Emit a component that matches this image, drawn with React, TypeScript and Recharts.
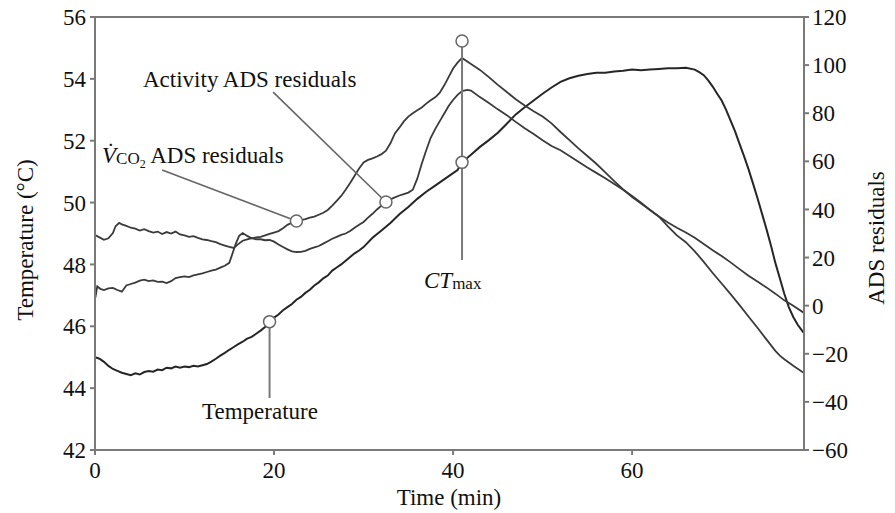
import React from "react";
import {
  LineChart,
  Line,
  XAxis,
  YAxis,
  ReferenceLine,
  ReferenceDot,
} from "recharts";

// time (min) / temperature (°C), left axis
const tempTime = [
  0, 0.5, 1, 1.5, 2, 2.5, 3, 3.5, 4, 4.5, 5, 5.5, 6, 6.5, 7, 7.5, 8, 8.5, 9, 9.5,
  10, 10.5, 11, 11.5, 12, 12.5, 13, 13.5, 14, 14.5, 15, 15.5, 16, 16.5, 17, 17.5,
  18, 18.5, 19, 19.5, 20, 20.5, 21, 21.5, 22, 22.5, 23, 23.5, 24, 24.5, 25, 25.5,
  26, 26.5, 27, 27.5, 28, 28.5, 29, 29.5, 30, 31, 32, 33, 34, 35, 36, 37, 38, 39,
  40, 40.5, 41, 42, 43, 44, 45, 46, 47, 48, 49, 50, 51, 52, 53, 54, 55, 56, 57, 58,
  59, 60, 61, 62, 63, 64, 65, 66, 67, 67.5, 68, 68.5, 69, 69.5, 70, 70.5, 71, 71.5,
  72, 72.5, 73, 73.5, 74, 74.5, 75, 75.5, 76, 76.5, 77, 77.5, 78, 78.5, 79, 79.2,
];
const tempValue = [
  45.0, 44.95, 44.85, 44.72, 44.62, 44.56, 44.5, 44.46, 44.42, 44.48, 44.44, 44.52,
  44.55, 44.53, 44.6, 44.58, 44.66, 44.64, 44.7, 44.66, 44.7, 44.68, 44.72, 44.7,
  44.74, 44.78, 44.86, 44.95, 45.05, 45.14, 45.24, 45.33, 45.42, 45.5, 45.6, 45.66,
  45.76, 45.86, 45.98, 46.14, 46.28, 46.38, 46.52, 46.62, 46.72, 46.86, 46.95,
  47.08, 47.18, 47.32, 47.42, 47.55, 47.64, 47.8, 47.9, 48.0, 48.12, 48.24, 48.36,
  48.45, 48.56, 48.86, 49.1, 49.34, 49.62, 49.86, 50.12, 50.35, 50.55, 50.75,
  50.95, 51.05, 51.3, 51.55, 51.8, 52.02, 52.26, 52.55, 52.85, 53.08, 53.3, 53.52,
  53.72, 53.9, 54.02, 54.1, 54.16, 54.2, 54.2, 54.24, 54.26, 54.3, 54.28, 54.3,
  54.32, 54.34, 54.34, 54.36, 54.3, 54.22, 54.12, 53.95, 53.75, 53.52, 53.3, 53.0,
  52.65, 52.3, 51.9, 51.5, 51.08, 50.62, 50.15, 49.65, 49.15, 48.62, 48.05, 47.55,
  47.05, 46.62, 46.3, 46.05, 45.85, 45.78,
];

// VCO2 ADS residuals, right axis
const co2Time = [
  0.05, 0.25, 0.6, 1, 1.5, 2, 2.5, 3, 3.5, 4, 4.5, 5, 5.5, 6, 6.5, 7, 7.5, 8, 8.5, 9,
  9.5, 10, 10.5, 11, 11.5, 12, 12.5, 13, 13.5, 14, 14.5, 15, 15.3, 15.7, 16.1, 16.5,
  17, 17.5, 18, 18.5, 19, 19.5, 20, 20.5, 21, 21.5, 22, 22.5, 23, 23.5, 24, 24.5,
  25, 25.5, 26, 26.5, 27, 27.5, 28, 28.5, 29, 29.5, 30, 30.5, 31, 31.5, 32, 32.5,
  33, 33.5, 34, 34.5, 35, 35.5, 36, 36.5, 37, 37.5, 38, 38.5, 39, 39.5, 40, 40.5,
  41, 42, 43, 44, 45, 46, 47, 48, 49, 50, 51, 52, 53, 54, 55, 56, 57, 58, 59, 60,
  61, 62, 63, 64, 65, 66, 67, 68, 69, 70, 71, 72, 73, 74, 75, 76, 76.5, 77, 78, 79.2,
];
const co2Value = [
  3.5, 8.0, 7.0, 6.5, 7.2, 7.4, 6.5, 5.8, 8.4, 9.0, 9.6, 10.4, 10.8, 10.2, 10.5, 9.9,
  10.0, 9.4, 10.2, 11.5, 11.9, 12.2, 11.9, 12.6, 13.0, 13.4, 14.0, 14.6, 15.0, 15.8,
  16.6, 17.8, 21.0, 25.5, 29.0, 30.2, 29.0, 28.0, 28.4, 28.6, 29.2, 29.8, 30.4,
  31.0, 32.2, 33.6, 34.5, 35.2, 35.6, 36.0, 36.6, 37.0, 37.8, 38.6, 39.8, 41.6,
  43.6, 45.6, 48.2, 51.0, 54.0, 57.0, 59.5, 60.6, 61.2, 62.0, 63.0, 64.4, 67.5,
  71.6, 74.0, 76.6, 78.6, 80.0, 81.2, 82.4, 84.0, 85.4, 86.6, 88.4, 91.5, 95.0,
  98.6, 101.0, 103.0, 100.5, 98.0, 95.0, 91.8, 88.8, 85.8, 83.2, 80.8, 78.6, 75.8,
  72.2, 68.8, 65.4, 62.2, 59.0, 55.4, 51.8, 48.3, 45.2, 42.5, 39.8, 37.0, 33.0,
  29.2, 26.4, 22.6, 18.2, 13.6, 9.2, 4.8, 0.2, -4.5, -9.2, -14.0, -18.8, -20.8,
  -22.3, -25.0, -28.0,
];

// Activity ADS residuals, right axis
const actTime = [
  0, 0.5, 1, 1.5, 2, 2.3, 2.7, 3, 3.5, 4, 4.5, 5, 5.5, 6, 6.5, 7, 7.5, 8, 8.5, 9,
  9.5, 10, 10.5, 11, 11.5, 12, 12.5, 13, 13.5, 14, 14.5, 15, 15.5, 16, 16.5, 17,
  17.5, 18, 18.5, 19, 19.5, 20, 20.5, 21, 21.5, 22, 22.5, 23, 23.5, 24, 24.5, 25,
  25.5, 26, 26.5, 27, 27.5, 28, 28.5, 29, 29.5, 30, 30.5, 31, 31.5, 32, 32.5, 33,
  33.5, 34, 34.5, 35, 35.5, 36, 36.5, 37, 37.5, 38, 38.5, 39, 39.5, 40, 40.5, 41,
  41.6, 42, 43, 44, 45, 46, 47, 48, 49, 50, 51, 52, 53, 54, 55, 56, 57, 58, 59, 60,
  61, 62, 63, 64, 65, 66, 67, 68, 69, 70, 71, 72, 73, 74, 75, 76, 77, 78, 79.2,
];
const actValue = [
  29.4, 28.4, 27.4, 28.0, 30.2, 33.0, 34.4, 33.8, 33.2, 32.4, 32.0, 31.2, 31.8,
  31.0, 30.4, 30.8, 29.8, 30.6, 30.0, 30.8, 29.6, 29.2, 28.6, 28.9, 28.2, 27.6,
  27.3, 26.8, 26.4, 25.6, 25.0, 24.4, 24.0, 25.6, 27.0, 27.6, 28.1, 27.6, 27.6,
  27.2, 27.3, 26.6, 25.4, 24.4, 23.4, 22.6, 22.3, 22.4, 22.8, 23.6, 24.2, 24.8,
  25.8, 26.8, 27.8, 28.6, 29.4, 30.0, 31.0, 32.4, 33.6, 34.8, 36.6, 38.2, 40.0,
  41.6, 43.1, 44.2, 45.0, 45.8, 46.4, 47.0, 48.2, 52.8, 59.0, 64.6, 69.8, 73.4,
  76.6, 79.8, 83.0, 85.5, 87.6, 89.2, 89.7, 89.4, 86.7, 84.2, 81.6, 79.2, 76.4,
  73.8, 71.4, 68.8, 66.4, 64.6, 62.2, 59.8, 57.4, 55.2, 53.0, 50.6, 48.2, 45.6,
  42.8, 39.8, 37.1, 34.6, 32.4, 30.4, 28.2, 25.6, 23.0, 20.6, 18.0, 15.2, 12.4,
  10.0, 7.6, 5.0, 2.2, 0.0, -3.0,
];

const xTicks = [0, 20, 40, 60];
const leftTicks = [42, 44, 46, 48, 50, 52, 54, 56];
const rightTicks = [-60, -40, -20, 0, 20, 40, 60, 80, 100, 120];

const ctMax = 41;

const toPoints = (ts: number[], vs: number[]) => ts.map((t, i) => ({ t, v: vs[i] }));
const tempData = toPoints(tempTime, tempValue);
const co2Data = toPoints(co2Time, co2Value);
const actData = toPoints(actTime, actValue);

const FONT = "'Liberation Serif', 'Times New Roman', serif";
const AXIS = "#7a7a7a";
const INK = "#111";
const FS = 23;
const tickStyle = { fontSize: FS, fill: INK, fontFamily: FONT };
const fmt = (v: number) => (v < 0 ? `\u2212${-v}` : `${v}`);

export default function App() {
  return (
    <div style={{ position: "absolute", left: 0, top: 0, width: 895, height: 513, background: "#fff" }}>
      <LineChart width={895} height={513} margin={{ top: 17, right: 0, bottom: 33, left: 0 }}>
        <XAxis
          type="number"
          dataKey="t"
          domain={[0, 79.2]}
          ticks={xTicks}
          allowDataOverflow
          height={30}
          tickSize={5}
          tickMargin={7}
          stroke={AXIS}
          strokeWidth={2}
          tick={tickStyle}
        />
        <YAxis
          yAxisId="left"
          domain={[42, 56]}
          ticks={leftTicks}
          width={95}
          tickSize={5}
          tickMargin={4}
          stroke={AXIS}
          strokeWidth={2}
          tick={tickStyle}
        />
        <YAxis
          yAxisId="right"
          orientation="right"
          domain={[-60, 120]}
          ticks={rightTicks}
          width={91}
          tickSize={5}
          tickMargin={3}
          stroke={AXIS}
          strokeWidth={2}
          tick={tickStyle}
          tickFormatter={fmt}
        />
        <ReferenceLine yAxisId="left" y={56} stroke={AXIS} strokeWidth={2} />

        <Line data={tempData} yAxisId="left" dataKey="v" type="linear" stroke="#262626" strokeWidth={2} dot={false} isAnimationActive={false} />
        <Line data={co2Data} yAxisId="right" dataKey="v" type="linear" stroke="#3a3a3a" strokeWidth={1.8} dot={false} isAnimationActive={false} />
        <Line data={actData} yAxisId="right" dataKey="v" type="linear" stroke="#3a3a3a" strokeWidth={1.8} dot={false} isAnimationActive={false} />

        {/* leader lines */}
        <ReferenceLine yAxisId="right" segment={[{ x: ctMax, y: 110 }, { x: ctMax, y: 19 }]} stroke={AXIS} strokeWidth={2} />
        <ReferenceLine yAxisId="left" segment={[{ x: 19.5, y: 46.15 }, { x: 19.5, y: 43.68 }]} stroke={AXIS} strokeWidth={2} />
        <ReferenceLine yAxisId="right" segment={[{ x: 19.9, y: 88.8 }, { x: 32.5, y: 43.1 }]} stroke="#666" strokeWidth={1.6} />
        <ReferenceLine yAxisId="right" segment={[{ x: 7.5, y: 56.4 }, { x: 22.5, y: 35.2 }]} stroke="#666" strokeWidth={1.6} />

        <ReferenceDot yAxisId="right" x={22.5} y={35.2} r={6} fill="#fff" stroke="#666" strokeWidth={1.5} />
        <ReferenceDot yAxisId="right" x={32.5} y={43.1} r={6} fill="#fff" stroke="#666" strokeWidth={1.5} />
        <ReferenceDot yAxisId="left" x={19.5} y={46.15} r={6} fill="#fff" stroke="#666" strokeWidth={1.5} />
        <ReferenceDot yAxisId="left" x={ctMax} y={51.3} r={6} fill="#fff" stroke="#666" strokeWidth={1.5} />
        <ReferenceDot yAxisId="right" x={ctMax} y={110} r={6} fill="#fff" stroke="#666" strokeWidth={1.5} />
      </LineChart>

      <svg
        width={895}
        height={513}
        style={{ position: "absolute", left: 0, top: 0, pointerEvents: "none" }}
        fontFamily={FONT}
        fill={INK}
      >
        <text x={143} y={87} fontSize={FS}>Activity ADS residuals</text>
        <text x={102} y={163} fontSize={FS}>
          <tspan fontStyle="italic">V{"\u0307"}</tspan>
          <tspan fontSize={17} dy={1}>CO</tspan>
          <tspan fontSize={12} dy={4}>2</tspan>
          <tspan fontSize={FS} dy={-5}> ADS residuals</tspan>
        </text>
        <text x={260} y={419} fontSize={FS} textAnchor="middle">Temperature</text>
        <text x={424} y={288} fontSize={FS}>
          <tspan fontStyle="italic">CT</tspan>
          <tspan fontSize={17} dy={1}>max</tspan>
        </text>
        <text x={449} y={505} fontSize={FS} textAnchor="middle">Time (min)</text>
        <text
          x={25}
          y={240}
          fontSize={FS}
          textAnchor="middle"
          dominantBaseline="central"
          transform="rotate(-90 25 240)"
        >
          Temperature (°C)
        </text>
        <text
          x={876}
          y={238}
          fontSize={FS}
          textAnchor="middle"
          dominantBaseline="central"
          transform="rotate(-90 876 238)"
        >
          ADS residuals
        </text>
      </svg>
    </div>
  );
}
